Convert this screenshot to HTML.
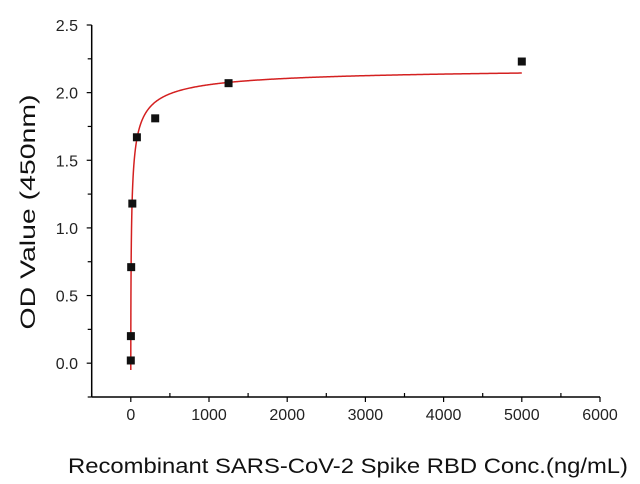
<!DOCTYPE html>
<html><head><meta charset="utf-8"><style>
body{margin:0;background:#fff;}
svg{display:block;font-family:"Liberation Sans",sans-serif;}
</style></head><body>
<svg id="chart" width="640" height="484" viewBox="0 0 640 484">
<g id="axes"></g>
<g id="curve"></g>
<g id="points"></g>
<text x="68" y="473" font-size="21" textLength="560" lengthAdjust="spacingAndGlyphs" fill="#111">Recombinant SARS-CoV-2 Spike RBD Conc.(ng/mL)</text>
<text transform="translate(35,212) rotate(-90)" text-anchor="middle" font-size="21" textLength="235" lengthAdjust="spacingAndGlyphs" fill="#111">OD Value (450nm)</text>
</svg>
<script>
const xValues=[0,1.2,4.9,19.5,78,312,1250,5000];
const yValues=[0.02,0.2,0.71,1.18,1.67,1.81,2.07,2.23];
const xTicks=[0,1000,2000,3000,4000,5000,6000];
const yTicks=[0.0,0.5,1.0,1.5,2.0,2.5];
const fitA=-0.05,fitB=0.61,fitC=11.9,fitD=2.2;
const ns="http://www.w3.org/2000/svg";
const X0=-500,X1=6000,PX0=91.7,PX1=600;
const Y0=-0.25,Y1=2.5,PY0=397,PY1=25;
function sx(v){return PX0+(v-X0)/(X1-X0)*(PX1-PX0);}
function sy(v){return PY0+(v-Y0)/(Y1-Y0)*(PY1-PY0);}
function mk(t,a,p){const e=document.createElementNS(ns,t);for(const k in a)e.setAttribute(k,a[k]);p.appendChild(e);return e;}
const ax=document.getElementById('axes');
let l=mk('line',{x1:PX0,y1:PY0,x2:PX1,y2:PY0,stroke:'#000','stroke-width':1.5},ax);


l=mk('line',{x1:PX0,y1:PY0,x2:PX0,y2:PY1,stroke:'#000','stroke-width':1.5},ax);


for(let v=X0;v<=X1;v+=500){const maj=v%1000===0;
 const t=mk('line',{x1:sx(v),x2:sx(v),y1:PY0,y2:maj?PY0+5:PY0-4,stroke:'#000','stroke-width':1.2},ax);
 
 }
xTicks.forEach(v=>{const t=mk('text',{x:sx(v),y:420,'text-anchor':'middle','font-size':16,fill:'#222'},ax);t.textContent=String(v);
 
 });
for(let v=Y0;v<=Y1+1e-9;v+=0.25){const maj=Math.abs(v*2-Math.round(v*2))<1e-9;
 const t=mk('line',{x1:PX0-(maj?5:4),x2:PX0,y1:sy(v),y2:sy(v),stroke:'#000','stroke-width':1.2},ax);
 
 }
yTicks.forEach(v=>{const t=mk('text',{x:78,y:sy(v)+6,'text-anchor':'end','font-size':16,fill:'#222'},ax);t.textContent=v.toFixed(1);
 
 });
const cg=document.getElementById('curve');
let d='';const N=600;
for(let i=0;i<=N;i++){const x=5000*Math.pow(i/N,3);const y=fitD+(fitA-fitD)/(1+Math.pow(x/fitC,fitB));d+=(i?'L':'M')+sx(x).toFixed(2)+','+sy(y).toFixed(2);}
const p=mk('path',{d:d,fill:'none',stroke:'#d42020','stroke-width':1.5},cg);


const pg=document.getElementById('points');
xValues.forEach((x,i)=>{const r=mk('rect',{x:sx(x)-4,y:sy(yValues[i])-4,width:8,height:8,fill:'#111'},pg);
 
 });
</script>
</body></html>
